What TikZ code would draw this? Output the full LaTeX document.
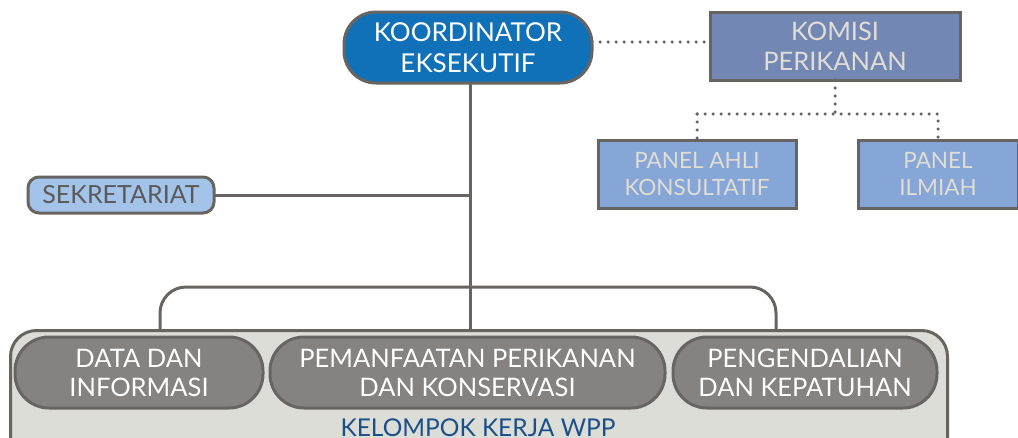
\documentclass[tikz,border=0pt]{standalone}
\usepackage{fontspec}
\setmainfont{Lato}
\definecolor{lnc}{RGB}{104,100,98}
\definecolor{koordc}{RGB}{16,112,184}
\definecolor{komisic}{RGB}{114,135,179}
\definecolor{panelc}{RGB}{133,166,214}
\definecolor{paneltxt}{RGB}{224,221,213}
\definecolor{sekc}{RGB}{163,195,232}
\definecolor{sektxt}{RGB}{90,90,90}
\definecolor{grayboxc}{RGB}{133,130,128}
\definecolor{outerc}{RGB}{220,221,214}
\definecolor{kelc}{RGB}{27,79,138}
\tikzset{
  x=1pt, y=-1pt,
  conn/.style={draw=lnc, line width=3pt},
  dotconn/.style={draw=lnc, line width=3.5pt, dash pattern=on 0pt off 8pt, line cap=round},
  boxbase/.style={draw=lnc, line width=3pt, align=center, inner sep=0pt, outer sep=0pt, font=\fontsize{25.5}{30}\selectfont},
  koordbox/.style={boxbase, fill=koordc, text=white, rounded corners=32pt, font=\fontsize{26}{31}\selectfont},
  komisibox/.style={boxbase, fill=komisic, text=paneltxt},
  panelbox/.style={boxbase, fill=panelc, text=paneltxt, font=\fontsize{22.5}{27}\selectfont},
  sekbox/.style={boxbase, fill=sekc, text=sektxt, rounded corners=11pt, font=\fontsize{25}{28}\selectfont},
  graybox/.style={boxbase, fill=grayboxc, text=white, rounded corners=34pt, font=\fontsize{25.5}{29}\selectfont},
  outerbox/.style={draw=lnc, line width=3pt, fill=outerc, rounded corners=26pt, inner sep=0pt},
}
\begin{document}
\begin{tikzpicture}
\useasboundingbox (0,0) rectangle (1018,437);
\clip (0,0) rectangle (1018,437);
% outer box
\node[outerbox, minimum width=937pt, minimum height=140pt, anchor=north west] (outer) at (9,329) {};
\node[font=\fontsize{24.5}{28}\selectfont, text=kelc, anchor=base] (kel) at (478,436) {KELOMPOK KERJA WPP};
% inner boxes
\node[graybox, minimum width=248pt, minimum height=71pt] (data) at (139,372.5) {DATA DAN\\INFORMASI};
\node[graybox, minimum width=395pt, minimum height=71pt] (pem) at (467.5,372.5) {PEMANFAATAN PERIKANAN\\DAN KONSERVASI};
\node[graybox, minimum width=264pt, minimum height=71pt] (peng) at (805,372.5) {PENGENDALIAN\\DAN KEPATUHAN};
% top nodes
\node[koordbox, minimum width=248pt, minimum height=71pt] (koord) at (468,47.5) {KOORDINATOR\\EKSEKUTIF};
\node[komisibox, minimum width=250pt, minimum height=68pt] (komisi) at (835,46) {KOMISI\\PERIKANAN};
\node[panelbox, minimum width=198pt, minimum height=68pt] (pa) at (697,174) {PANEL AHLI\\KONSULTATIF};
\node[panelbox, minimum width=160pt, minimum height=68pt] (pi) at (938,174) {PANEL\\ILMIAH};
\node[sekbox, minimum width=186pt, minimum height=36pt] (sek) at (121,195) {SEKRETARIAT};
% coordinates
\coordinate (trunk) at (470,83);
\coordinate (bl) at (160,329);
\coordinate (br) at (776,329);
\coordinate (bt) at (470,287);
% connectors
\draw[conn] (trunk) -- (trunk |- outer.north);
\draw[conn] (sek.east) -- (sek.east -| trunk);
\draw[conn, rounded corners=26pt] (bl) -- (bl |- bt) -- (br |- bt) -- (br);
\draw[dotconn] (koord.east |- 0,42) -- (komisi.west |- 0,42);
\draw[dotconn] (komisi.south) -- (komisi.south |- 0,114);
\draw[dotconn] (pa.north |- 0,114) -- (pa.north);
\draw[dotconn] (pa.north |- 0,114) -- (pi.north |- 0,114) -- (pi.north);
\end{tikzpicture}
\end{document}
